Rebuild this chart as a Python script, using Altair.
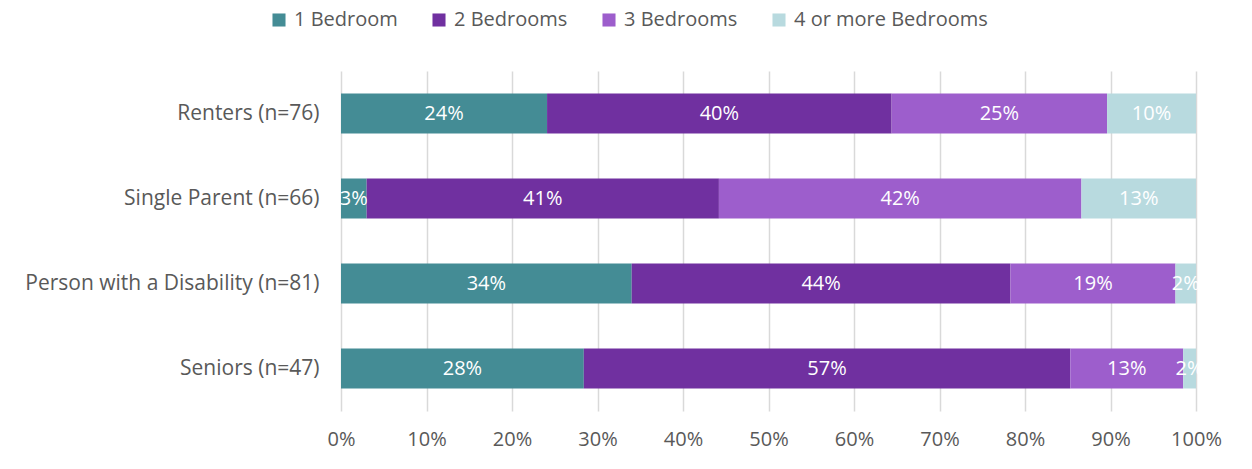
import altair as alt
import pandas as pd

groups = ["Renters (n=76)", "Single Parent (n=66)", "Person with a Disability (n=81)", "Seniors (n=47)"]
categories = ["1 Bedroom", "2 Bedrooms", "3 Bedrooms", "4 or more Bedrooms"]
colors = ["#448C95", "#7030A0", "#9D5ECC", "#B8DADF"]
one_bed = [24.1, 3.0, 34.0, 28.4]
two_bed = [40.3, 41.2, 44.3, 56.9]
three_bed = [25.2, 42.4, 19.3, 13.2]
four_bed = [10.4, 13.4, 2.4, 1.5]
x_ticks = [0, 10, 20, 30, 40, 50, 60, 70, 80, 90, 100]

rows = []
for ci, (cat, vals) in enumerate(zip(categories, [one_bed, two_bed, three_bed, four_bed])):
    for g, v in zip(groups, vals):
        rows.append({"group": g, "category": cat, "order": ci, "value": v})
df = pd.DataFrame(rows)

FONT = "Open Sans"
GRAY = "#595959"

base = alt.Chart(df).transform_stack(
    stack="value", groupby=["group"], as_=["start", "end"],
    sort=[alt.SortField("order", order="ascending")]
).transform_calculate(
    mid="(datum.start + datum.end) / 2",
    label="round(datum.value) + '%'"
)

y_enc = alt.Y("group:N", sort=groups, title=None,
              scale=alt.Scale(paddingInner=0.53, paddingOuter=0.265),
              axis=alt.Axis(domain=False, ticks=False, labelPadding=22, labelLimit=400,
                            labelFontSize=21, labelColor=GRAY, labelFont=FONT))

bars = base.mark_bar().encode(
    y=y_enc,
    x=alt.X("start:Q", title=None, scale=alt.Scale(domain=[0, 100], nice=False),
            axis=alt.Axis(values=x_ticks, labelExpr="datum.value + '%'", domain=False,
                          ticks=False, grid=True, gridColor="#D9D9D9", gridWidth=1.5,
                          labelFlush=False, labelPadding=18, labelFontSize=20,
                          labelColor=GRAY, labelFont=FONT)),
    x2="end:Q",
    color=alt.Color("category:N", sort=categories,
                    scale=alt.Scale(domain=categories, range=colors),
                    legend=alt.Legend(title=None, orient="none", direction="horizontal",
                                      legendX=-72, legendY=-61, symbolType="square",
                                      symbolSize=170, symbolStrokeWidth=0, labelFontSize=20,
                                      labelColor=GRAY, labelFont=FONT, columnPadding=31,
                                      labelOffset=5, labelLimit=400)),
)

text = base.mark_text(color="white", fontSize=20, font=FONT, baseline="middle", align="center").encode(
    y=alt.Y("group:N", sort=groups),
    x=alt.X("mid:Q"),
    text="label:N",
)

chart = alt.layer(bars, text).properties(
    width=855, height=340,
    autosize=alt.AutoSizeParams(type="none"),
    padding={"left": 333, "top": 63, "right": 48, "bottom": 50},
).configure_view(stroke=None)

chart.save("out.html", embed_options={"renderer": "svg", "actions": False})
